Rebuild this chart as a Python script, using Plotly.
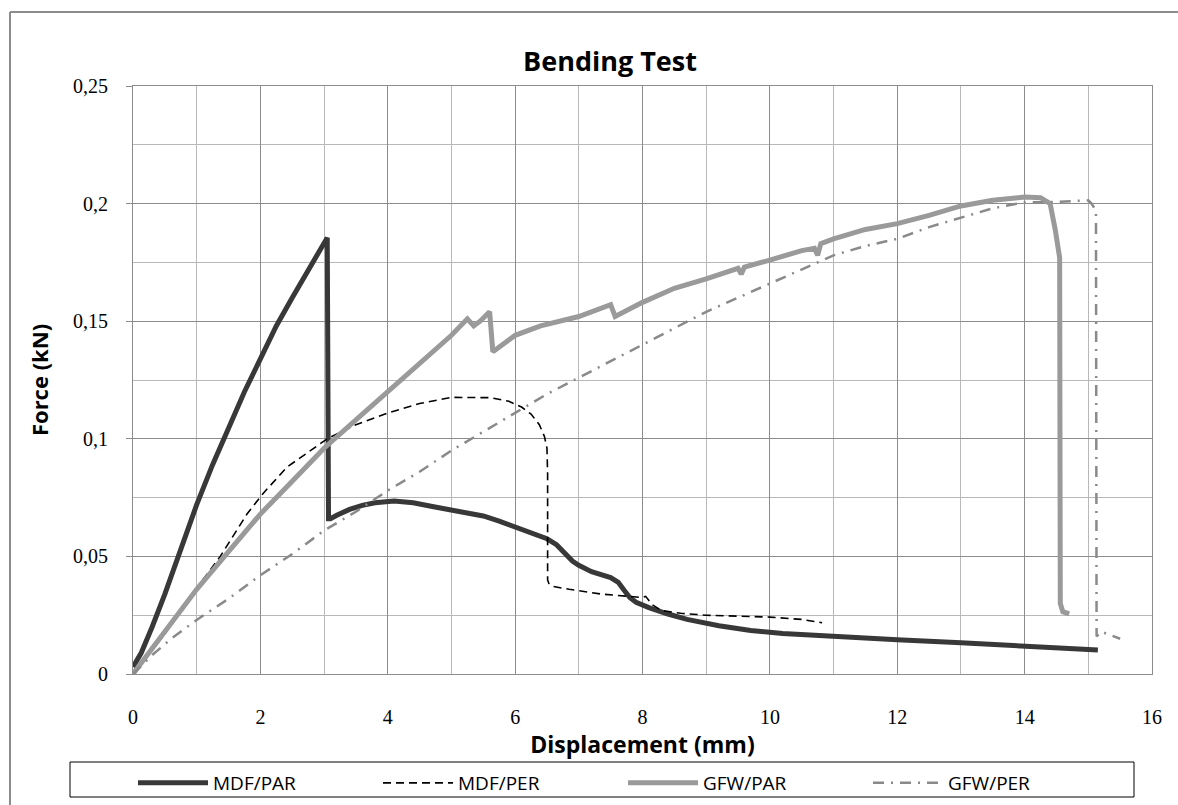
import plotly.graph_objects as go

# ---------------- data ----------------
mdf_par_x = [0, 0.13, 0.3, 0.5, 0.75, 1.0, 1.25, 1.5, 1.75, 2.0, 2.25, 2.5, 2.75, 3.05,
             3.07, 3.1, 3.2, 3.4, 3.6, 3.8, 4.1, 4.4, 4.7, 5.0, 5.5, 5.75, 6.0, 6.25, 6.5,
             6.65, 6.8, 6.9, 7.0, 7.2, 7.5, 7.62, 7.7, 7.8, 7.9, 8.1, 8.4, 8.7, 9.2, 9.7,
             10.2, 10.8, 11.5, 12.0, 13.0, 14.0, 15.15]
mdf_par_y = [0.003, 0.009, 0.02, 0.034, 0.053, 0.072, 0.089, 0.105, 0.12, 0.134, 0.148, 0.16, 0.172, 0.1855,
             0.066, 0.066, 0.0675, 0.0700, 0.0717, 0.0728, 0.0735, 0.0728, 0.0712, 0.0696, 0.0672, 0.065, 0.0625, 0.060, 0.0575,
             0.055, 0.051, 0.048, 0.0462, 0.0435, 0.041, 0.039, 0.036, 0.0325, 0.0305, 0.0282, 0.0255, 0.0232, 0.0205, 0.0185,
             0.0172, 0.0162, 0.0152, 0.0146, 0.0133, 0.012, 0.0102]

mdf_per_x = [0, 0.5, 0.9, 1.37, 1.79, 2.05, 2.42, 2.74, 3.05, 3.5, 4.0, 4.5, 5.0, 5.6, 5.9, 6.1,
             6.25, 6.38, 6.46, 6.5, 6.51, 6.51, 6.53, 6.6, 6.85, 7.35, 7.8, 8.0, 8.05, 8.15,
             8.3, 8.6, 9.0, 10.0, 10.5, 10.82]
mdf_per_y = [0, 0.017, 0.033, 0.05, 0.068, 0.077, 0.088, 0.094, 0.1, 0.106, 0.111, 0.115, 0.1176, 0.1175, 0.116, 0.1135,
             0.1105, 0.106, 0.101, 0.096, 0.085, 0.04, 0.0385, 0.0372, 0.036, 0.034, 0.033, 0.0325, 0.033, 0.0295,
             0.027, 0.0258, 0.025, 0.0242, 0.0232, 0.0218]

gfw_par_x = [0, 0.5, 1.0, 1.5, 2.0, 2.5, 3.0, 3.5, 4.0, 4.5, 5.0, 5.25, 5.35, 5.45, 5.6, 5.65,
             6.0, 6.4, 7.0, 7.5, 7.57, 8.0, 8.5, 9.0, 9.5, 9.55, 9.6, 10.0, 10.5, 10.7, 10.75,
             10.8, 11.0, 11.5, 12.0, 12.5, 13.0, 13.5, 14.0, 14.25, 14.4, 14.48, 14.55, 14.56,
             14.6, 14.7]
gfw_par_y = [0, 0.018, 0.036, 0.052, 0.068, 0.082, 0.096, 0.108, 0.12, 0.132, 0.144, 0.151, 0.148, 0.15, 0.154, 0.137,
             0.144, 0.148, 0.152, 0.157, 0.152, 0.158, 0.164, 0.168, 0.1725, 0.170, 0.173, 0.176, 0.18, 0.181, 0.178,
             0.183, 0.185, 0.189, 0.1915, 0.195, 0.199, 0.2014, 0.2028, 0.2025, 0.2, 0.189, 0.177, 0.03,
             0.0265, 0.0256]

gfw_per_x = [0, 0.3, 0.6, 1.0, 1.5, 2.0, 2.5, 3.0, 3.5, 4.0, 4.5, 5.0, 5.5, 6.0, 6.5, 7.0, 7.5,
             8.0, 8.5, 9.0, 9.5, 10.0, 10.5, 11.0, 11.5, 12.0, 12.5, 13.0, 13.5, 14.0, 14.5,
             15.0, 15.05, 15.12, 15.13, 15.2, 15.4, 15.5]
gfw_per_y = [0, 0.008, 0.015, 0.023, 0.032, 0.042, 0.051, 0.061, 0.069, 0.078, 0.086, 0.095, 0.103, 0.111, 0.119, 0.126, 0.133,
             0.140, 0.147, 0.154, 0.160, 0.166, 0.172, 0.178, 0.182, 0.185, 0.19, 0.194, 0.198, 0.2005, 0.2007,
             0.2014, 0.2, 0.197, 0.016, 0.018, 0.016, 0.015]

series_names = ["MDF/PAR", "MDF/PER", "GFW/PAR", "GFW/PER"]

x_tick_vals = [0, 2, 4, 6, 8, 10, 12, 14, 16]
x_tick_text = ["0", "2", "4", "6", "8", "10", "12", "14", "16"]
y_tick_vals = [0, 0.05, 0.1, 0.15, 0.2, 0.25]
y_tick_text = ["0", "0,05", "0,1", "0,15", "0,2", "0,25"]

# ---------------- figure ----------------
fig = go.Figure()
fig.add_trace(go.Scatter(x=mdf_par_x, y=mdf_par_y, mode="lines", name=series_names[0],
                         line=dict(color="#383838", width=5)))
fig.add_trace(go.Scatter(x=mdf_per_x, y=mdf_per_y, mode="lines", name=series_names[1],
                         line=dict(color="#000000", width=1.6, dash="8px,5px")))
fig.add_trace(go.Scatter(x=gfw_par_x, y=gfw_par_y, mode="lines", name=series_names[2],
                         line=dict(color="#9a9a9a", width=5)))
fig.add_trace(go.Scatter(x=gfw_per_x, y=gfw_per_y, mode="lines", name=series_names[3],
                         line=dict(color="#8a8a8a", width=2.5, dash="11px,7px,2px,7px")))

L, R, T, B = 133, 26, 86, 131
W, H = 1178, 805
pw, ph = W - L - R, H - T - B

def px_x(px):
    return (px - L) / pw

def px_y(py):
    return (H - B - py) / ph

fig.update_layout(
    width=W, height=H,
    margin=dict(l=L, r=R, t=T, b=B, autoexpand=False),
    paper_bgcolor="white", plot_bgcolor="white",
    title=dict(text="<b>Bending Test</b>", x=610 / W, xref="container", xanchor="center",
               y=1 - 62 / H, yref="container", yanchor="middle",
               font=dict(family="Open Sans", size=27, color="#000")),
    font=dict(family="Open Sans", color="#000"),
    showlegend=True,
    legend=dict(orientation="h", x=px_x(133), xanchor="left", y=px_y(764), yanchor="top",
                borderwidth=0, bgcolor="rgba(0,0,0,0)",
                entrywidth=160, entrywidthmode="pixels",
                font=dict(family="Open Sans", size=19, color="#000"),
                itemwidth=70),
)

fig.update_xaxes(range=[0, 16], tickmode="array", tickvals=x_tick_vals, ticktext=x_tick_text,
                 showgrid=True, gridcolor="#8c8c8c", gridwidth=1,
                 minor=dict(dtick=1, showgrid=True, gridcolor="#b8b8b8", gridwidth=1),
                 showline=True, linecolor="#8c8c8c", linewidth=1, mirror=True,
                 ticks="", ticklabelstandoff=25, zeroline=False,
                 tickfont=dict(family="Liberation Serif", size=20, color="#000"),
                 title=dict(text="<b>Displacement (mm)</b>", standoff=0,
                            font=dict(family="Open Sans", size=23, color="#000")))
fig.update_yaxes(range=[0, 0.25], tickmode="array", tickvals=y_tick_vals, ticktext=y_tick_text,
                 showgrid=True, gridcolor="#8c8c8c", gridwidth=1,
                 minor=dict(dtick=0.025, showgrid=True, gridcolor="#b8b8b8", gridwidth=1),
                 showline=True, linecolor="#8c8c8c", linewidth=1, mirror=True,
                 ticks="outside", ticklen=6, tickcolor="#8c8c8c", zeroline=False,
                 ticklabelstandoff=14,
                 tickfont=dict(family="Liberation Serif", size=20, color="#000"),
                 title=dict(text="<b>Force (kN)</b>", standoff=18,
                            font=dict(family="Open Sans", size=22, color="#000")))

# outer chart frame (left and top edges visible in the reference)
fig.add_shape(type="line", xref="paper", yref="paper", x0=px_x(10), x1=px_x(10),
              y0=px_y(12), y1=px_y(805), line=dict(color="#8c8c8c", width=2), layer="above")
fig.add_shape(type="line", xref="paper", yref="paper", x0=px_x(10), x1=px_x(1178),
              y0=px_y(12), y1=px_y(12), line=dict(color="#8c8c8c", width=2), layer="above")
# legend frame
fig.add_shape(type="rect", xref="paper", yref="paper", x0=px_x(70), x1=px_x(1134),
              y0=px_y(797), y1=px_y(762), line=dict(color="#000", width=1),
              fillcolor="rgba(0,0,0,0)", layer="below")

fig.write_html("out.html", config={"displayModeBar": False},
               post_script="document.body.style.margin='0';")
